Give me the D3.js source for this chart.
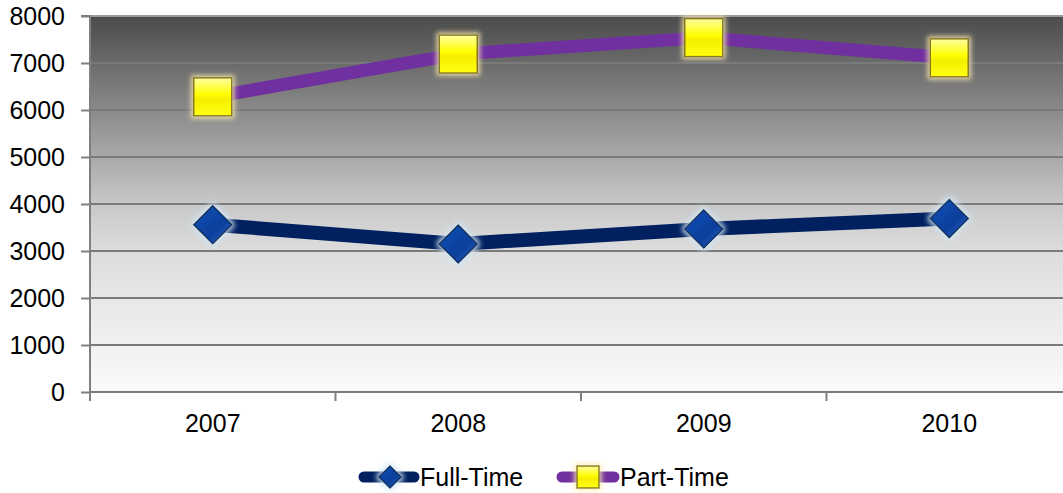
<!DOCTYPE html>
<html><head><meta charset="utf-8">
<script src="https://cdn.jsdelivr.net/npm/d3@7"></script>
<style>body{margin:0;background:#fff}svg{display:block}text{font-family:"Liberation Sans",Arial,sans-serif}</style>
</head><body><svg id="c" width="1063" height="493"></svg>
<script>
const categories = ["2007","2008","2009","2010"];
const fullTime = [3560, 3150, 3470, 3690];
const partTime = [6280, 7190, 7540, 7110];
const yTicks = [0,1000,2000,3000,4000,5000,6000,7000,8000];
const seriesNames = ["Full-Time","Part-Time"];

const svg = d3.select("#c");
const L = 90, T = 16, B = 392, R = 1072;
const FS = 25;
const x = d3.scaleBand().domain(categories).range([L, R]);
const y = d3.scaleLinear().domain([0, 8000]).range([B, T]);

const defs = svg.append("defs");
const bg = defs.append("linearGradient").attr("id","bg").attr("x1",0).attr("y1",0).attr("x2",0).attr("y2",1);
[[0,"#4b4b4b"],[0.25,"#8a8a8a"],[0.5,"#c8c8c8"],[0.62,"#dcdcdc"],[0.8,"#ebebeb"],[1,"#fafafa"]]
  .forEach(s=>bg.append("stop").attr("offset",s[0]).attr("stop-color",s[1]));
const sq = defs.append("linearGradient").attr("id","sq").attr("x1",0).attr("y1",0).attr("x2",0).attr("y2",1);
[[0,"#ffffa0"],[0.45,"#ffff00"],[0.55,"#f5ee00"],[1,"#ffff10"]].forEach(s=>sq.append("stop").attr("offset",s[0]).attr("stop-color",s[1]));
const dm = defs.append("linearGradient").attr("id","dm").attr("x1",0).attr("y1",0).attr("x2",1).attr("y2",1);
[[0,"#1650b8"],[0.6,"#0c3f9c"],[1,"#2a62c4"]].forEach(s=>dm.append("stop").attr("offset",s[0]).attr("stop-color",s[1]));
function glow(id,color){
  const f = defs.append("filter").attr("id",id).attr("x","-50%").attr("y","-50%").attr("width","200%").attr("height","200%");
  f.append("feMorphology").attr("in","SourceAlpha").attr("operator","dilate").attr("radius",2).attr("result","d");
  f.append("feGaussianBlur").attr("in","d").attr("stdDeviation",2.5).attr("result","b");
  f.append("feFlood").attr("flood-color",color).attr("flood-opacity",0.8);
  f.append("feComposite").attr("in2","b").attr("operator","in").attr("result","g");
  const m = f.append("feMerge"); m.append("feMergeNode").attr("in","g"); m.append("feMergeNode").attr("in","SourceGraphic");
}
glow("gy","#fff0b0"); glow("gb","#cfe6f5");

svg.append("rect").attr("x",L).attr("y",T).attr("width",R-L).attr("height",B-T).attr("fill","url(#bg)");

// gridlines
svg.append("g").selectAll("line").data(yTicks).join("line")
  .attr("x1",L).attr("x2",R).attr("y1",d=>y(d)).attr("y2",d=>y(d))
  .attr("stroke",d=>d===8000?"#9a9a9a":"#7a7a7a").attr("stroke-width",2);

// y axis
const ya = svg.append("g").attr("transform",`translate(${L},0)`)
  .call(d3.axisLeft(y).tickValues(yTicks).tickSize(9).tickPadding(16).tickFormat(d3.format("d")));
ya.select(".domain").attr("stroke","#7f7f7f").attr("stroke-width",2).attr("d",`M-9,${T}H0V${B+8}`);
ya.selectAll(".tick line").attr("stroke","#7f7f7f").attr("stroke-width",2);
ya.selectAll("text").attr("font-size",FS).attr("fill","#000").attr("dy","0.34em").attr("font-family","'Liberation Sans',Arial,sans-serif");

// x axis
const xa = svg.append("g").attr("transform",`translate(0,${B})`)
  .call(d3.axisBottom(x).tickSize(0).tickPadding(22));
xa.select(".domain").remove();
xa.selectAll("text").attr("font-size",FS).attr("fill","#000").attr("font-family","'Liberation Sans',Arial,sans-serif");
const xticks = categories.map(c=>x(c)).concat([R]);
svg.append("g").selectAll("line").data(xticks).join("line")
  .attr("x1",d=>d).attr("x2",d=>d).attr("y1",B).attr("y2",B+9)
  .attr("stroke","#7f7f7f").attr("stroke-width",2);

const cx = c => x(c) + x.bandwidth()/2;
const line = d3.line().x(d=>cx(d.c)).y(d=>y(d.v));
const ft = categories.map((c,i)=>({c,v:fullTime[i]}));
const pt = categories.map((c,i)=>({c,v:partTime[i]}));

svg.append("path").datum(ft).attr("d",line).attr("fill","none").attr("stroke","#002060").attr("stroke-width",14).attr("stroke-linejoin","round").attr("stroke-linecap","round");
svg.append("path").datum(pt).attr("d",line).attr("fill","none").attr("stroke","#7030a0").attr("stroke-width",13).attr("stroke-linejoin","round").attr("stroke-linecap","round");

function diamond(g, px, py, s){
  g.append("path").attr("d",`M${px},${py-s}L${px+s},${py}L${px},${py+s}L${px-s},${py}Z`)
   .attr("fill","url(#dm)").attr("stroke","#0b3060").attr("stroke-width",1.5).attr("filter","url(#gb)");
}
function square(g, px, py, s){
  g.append("rect").attr("x",px-s).attr("y",py-s).attr("width",2*s).attr("height",2*s)
   .attr("fill","url(#sq)").attr("stroke","#8a7a20").attr("stroke-width",1.5).attr("filter","url(#gy)");
}
const mg = svg.append("g");
ft.forEach(d=>diamond(mg, cx(d.c), y(d.v), 19));
pt.forEach(d=>square(mg, cx(d.c), y(d.v), 19));

// legend
const lg = svg.append("g");
const ly = 477;
lg.append("line").attr("x1",364).attr("x2",414).attr("y1",ly).attr("y2",ly).attr("stroke","#002060").attr("stroke-width",11).attr("stroke-linecap","round");
diamond(lg, 390, ly, 11);
lg.append("text").attr("x",420).attr("y",ly+9).attr("font-size",FS).text(seriesNames[0]);
lg.append("line").attr("x1",562).attr("x2",614).attr("y1",ly).attr("y2",ly).attr("stroke","#7030a0").attr("stroke-width",11).attr("stroke-linecap","round");
square(lg, 588, ly, 11);
lg.append("text").attr("x",620).attr("y",ly+9).attr("font-size",FS).text(seriesNames[1]);
</script></body></html>
